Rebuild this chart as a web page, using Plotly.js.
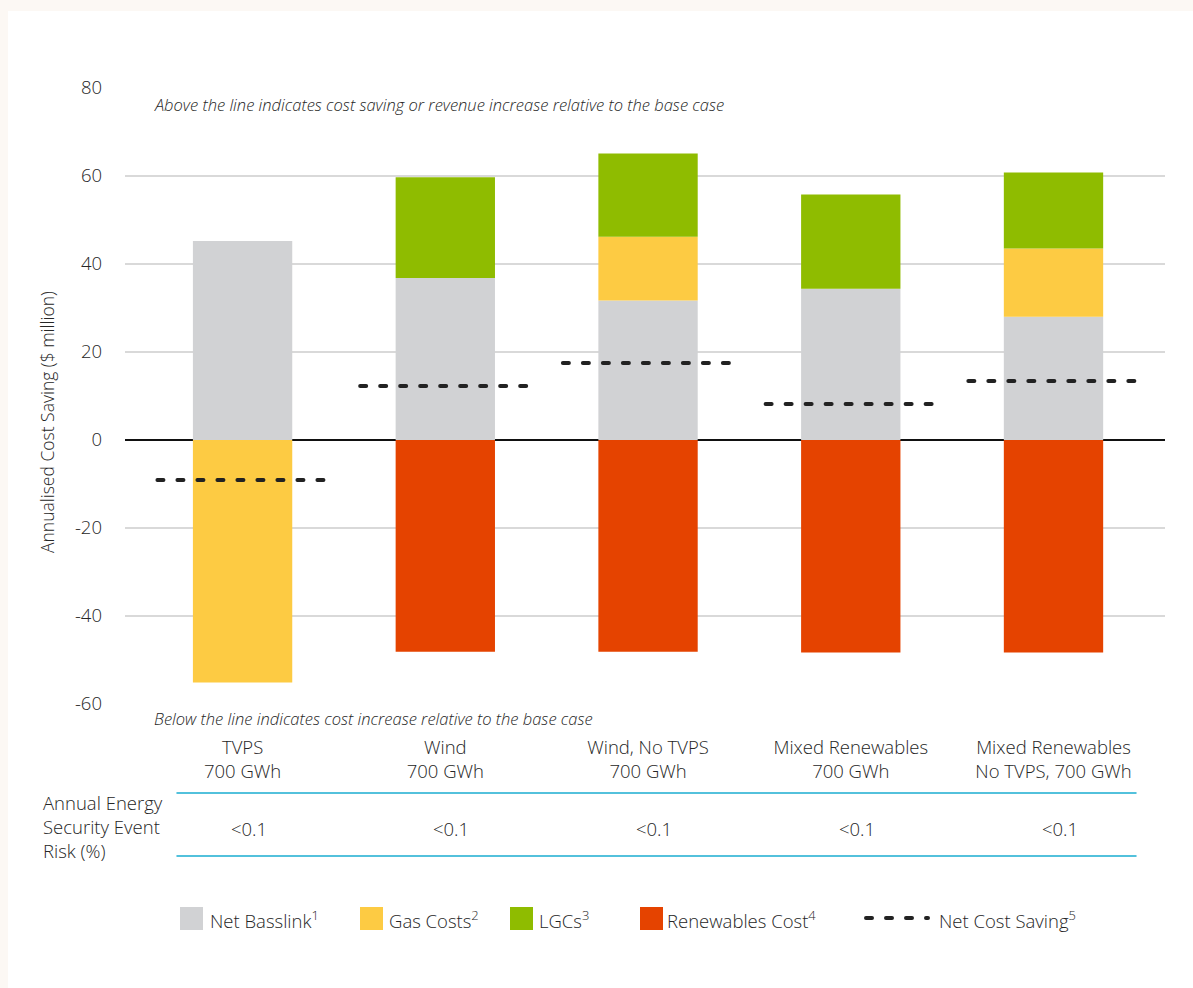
<!DOCTYPE html>
<html>
<head>
<meta charset="utf-8">
<script src="https://cdn.plot.ly/plotly-3.0.1.min.js"></script>
<style>
  html, body { margin: 0; padding: 0; background: #fcf8f4; }
  #chart { position: absolute; left: 8px; top: 11px; width: 1185px; height: 977px; background: #ffffff; }
  /* rounded dash ends for the net-saving markers */
  #chart .scatterlayer path.js-line,
  #chart .shapelayer path { stroke-linecap: round; }
</style>
</head>
<body>
<div id="chart"></div>
<script>
// Scenarios and annualised cost components ($ million)
const scenarios = [
  "TVPS<br>700 GWh",
  "Wind<br>700 GWh",
  "Wind, No TVPS<br>700 GWh",
  "Mixed Renewables<br>700 GWh",
  "Mixed Renewables<br>No TVPS, 700 GWh"
];
const netBasslink     = [45.2, 36.8, 31.7, 34.4, 28.0];
const gasCosts        = [-55.1, null, 14.5, null, 15.5];
const lgcs            = [null, 22.9, 18.9, 21.4, 17.3];
const renewablesCost  = [null, -48.1, -48.1, -48.3, -48.3];
const netCostSaving   = [-9.1, 12.3, 17.5, 8.2, 13.4];
const riskPercent     = ["<0.1", "<0.1", "<0.1", "<0.1", "<0.1"];
const yTickValues     = [-60, -40, -20, 0, 20, 40, 60, 80];
const yTickLabels     = ["-60", "-40", "-20", "0", "20", "40", "60", "80"];
const yTitle          = "Annualised Cost Saving ($ million)";

const seriesNames = [
  "Net Basslink<sup>1</sup>",
  "Gas Costs<sup>2</sup>",
  "LGCs<sup>3</sup>",
  "Renewables Cost<sup>4</sup>",
  "Net Cost Saving<sup>5</sup>"
];
const colors = ["#d1d2d4", "#fdcb43", "#8fbc00", "#e54300", "#222222"];

const idx = scenarios.map((_, i) => i);
const FONT = "'Open Sans', sans-serif";
const TEXT = "#262626";
const SIZE = 18.5;
const baseFont = { family: FONT, size: SIZE, color: TEXT, weight: 300 };

// page-pixel -> paper helpers (plot area spans 125..1165 x 88..704 on the page)
const PX = x => (x - 125) / 1040;
const PY = y => (704 - y) / 616;

function barTrace(vals, i) {
  return {
    type: "bar", x: idx, y: vals, name: seriesNames[i],
    marker: { color: colors[i], line: { width: 0 } },
    showlegend: false, hoverinfo: "name+y"
  };
}

// Net cost saving drawn as a dashed segment across each scenario
const halfSpan = 0.42;
const dashX = [], dashY = [];
netCostSaving.forEach((v, i) => {
  dashX.push(i - halfSpan, i + halfSpan, null);
  dashY.push(v, v, null);
});

const traces = [
  barTrace(netBasslink, 0),
  barTrace(gasCosts, 1),
  barTrace(lgcs, 2),
  barTrace(renewablesCost, 3),
  {
    type: "scatter", mode: "lines", x: dashX, y: dashY, name: seriesNames[4],
    line: { color: colors[4], width: 4, dash: "6px,14px" },
    showlegend: false, hoverinfo: "name+y"
  }
];

const noteFont = { family: FONT, size: 16.5, color: TEXT, weight: 300 };
const annotations = [
  // value-axis title, set a little below the axis centre
  {
    xref: "paper", yref: "paper", x: PX(47), y: PY(422), xanchor: "center", yanchor: "middle",
    textangle: -90, text: yTitle, showarrow: false,
    font: { family: FONT, size: 17.5, color: TEXT, weight: 300 }
  },
  {
    xref: "paper", yref: "paper", x: PX(152), y: PY(104), xanchor: "left", yanchor: "middle",
    text: "<i>Above the line indicates cost saving or revenue increase relative to the base case</i>",
    showarrow: false, font: noteFont
  },
  {
    xref: "paper", yref: "paper", x: PX(152), y: PY(718), xanchor: "left", yanchor: "middle",
    text: "<i>Below the line indicates cost increase relative to the base case</i>",
    showarrow: false, font: noteFont
  },
  {
    xref: "paper", yref: "paper", x: PX(41), y: PY(826), xanchor: "left", yanchor: "middle",
    align: "left", text: "Annual Energy<br>Security Event<br>Risk (%)",
    showarrow: false, font: baseFont
  }
];
riskPercent.forEach((r, i) => {
  annotations.push({
    xref: "x", yref: "paper", x: i + 0.03, y: PY(828), xanchor: "center", yanchor: "middle",
    text: r.replace("<", "&lt;"), showarrow: false, font: baseFont
  });
});

const shapes = [
  // table rules
  { type: "line", xref: "paper", yref: "paper", x0: PX(177), x1: PX(1136), y0: PY(793), y1: PY(793),
    line: { color: "#1aadd1", width: 1.5 } },
  { type: "line", xref: "paper", yref: "paper", x0: PX(177), x1: PX(1136), y0: PY(856), y1: PY(856),
    line: { color: "#1aadd1", width: 1.5 } }
];

// legend: swatches and labels
const legendItems = [
  { sx: 180, tx: 208, kind: "box", c: 0 },
  { sx: 360, tx: 387, kind: "box", c: 1 },
  { sx: 510, tx: 537, kind: "box", c: 2 },
  { sx: 640, tx: 665, kind: "box", c: 3 },
  { sx: 866, tx: 937, kind: "dash", c: 4 }
];
legendItems.forEach(it => {
  if (it.kind === "box") {
    shapes.push({ type: "rect", xref: "paper", yref: "paper",
      x0: PX(it.sx), x1: PX(it.sx + 23), y0: PY(930), y1: PY(907),
      fillcolor: colors[it.c], line: { width: 0 } });
  } else {
    shapes.push({ type: "line", xref: "paper", yref: "paper",
      x0: PX(it.sx), x1: PX(it.sx + 62), y0: PY(918), y1: PY(918),
      line: { color: colors[it.c], width: 4, dash: "6px,14px" } });
  }
  annotations.push({
    xref: "paper", yref: "paper", x: PX(it.tx), y: PY(919), xanchor: "left", yanchor: "middle",
    text: seriesNames[it.c], showarrow: false, font: baseFont
  });
});

const layout = {
  width: 1185, height: 977,
  margin: { l: 117, r: 28, t: 77, b: 284 },
  paper_bgcolor: "#ffffff", plot_bgcolor: "#ffffff",
  barmode: "relative", bargap: 0.51,
  font: baseFont,
  showlegend: false,
  xaxis: {
    range: [-0.58, 4.55], tickvals: idx, ticktext: scenarios,
    showgrid: false, zeroline: false, showline: false,
    ticks: "outside", ticklen: 27, tickcolor: "rgba(0,0,0,0)",
    tickfont: baseFont, fixedrange: true
  },
  yaxis: {
    range: [-60, 80], tickvals: yTickValues, ticktext: yTickLabels,
    showgrid: true, gridcolor: "#d9d9d9", gridwidth: 1.5,
    zeroline: true, zerolinecolor: "#111111", zerolinewidth: 1.5,
    showline: false, ticks: "", ticklabelstandoff: 22,
    tickfont: baseFont, fixedrange: true
  },
  annotations: annotations,
  shapes: shapes
};

Plotly.newPlot("chart", traces, layout, { displayModeBar: false, staticPlot: true });
</script>
</body>
</html>
